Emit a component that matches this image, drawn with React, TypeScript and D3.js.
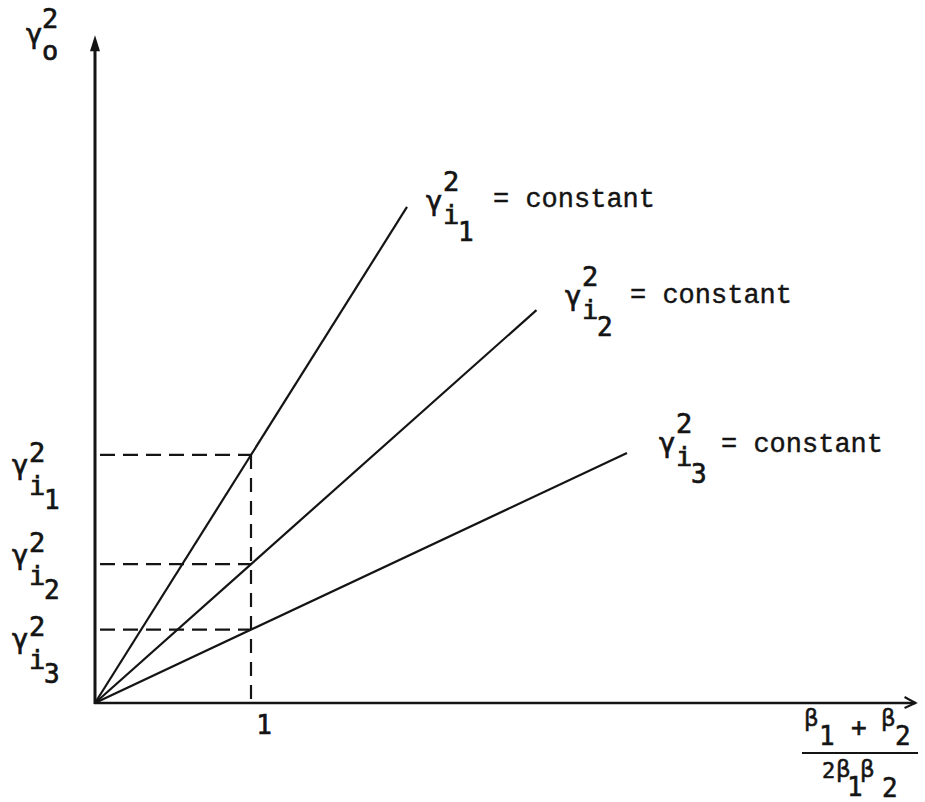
import React from "react";
import * as d3 from "d3";

// ---- data ----
const lineSubscripts = ["1", "2", "3"]; // γ_{i_k}
const lineValuesAtOne = [1.59, 0.89, 0.47]; // γ_{i_k}^2 value at x = 1
const lineEndX = [2.0, 2.83, 3.41]; // where each drawn line stops
const xTickValues = [1];
const xTickLabels = ["1"];
const xAxisMax = 5.26;
const yAxisMax = 4.28;
const labelText = "= constant";

// ---- layout ----
const W = 925;
const H = 802;
const x = d3.scaleLinear().domain([0, 1]).range([95, 251]);
const y = d3.scaleLinear().domain([0, 1]).range([703, 547]);

const MONO = "'DejaVu Sans Mono', monospace";
const SANS = "'DejaVu Sans', sans-serif";
const COURIER = "'Liberation Mono', 'Courier New', monospace";
const INK = "#141414";
const TS = 0.7; // faux-bold stroke for scanned-type look

// line label anchors (γ left, γ bottom) and "= constant" x/baseline
const lineLabelPos = [
  { gx: 427, gb: 215, tx: 493, tb: 207 },
  { gx: 566, gb: 310, tx: 630, tb: 303 },
  { gx: 660, gb: 457, tx: 721, tb: 452 },
];
// tick label γ bottoms relative to the dashed line
const tickLabelOffset = [24, 5, 23];

function Gamma({ gx, gb, sub, supDy = -24, iDy = 9, subDy = 26 }: any) {
  return (
    <g fill={INK} stroke={INK} strokeWidth={TS}>
      <text x={gx - 1} y={gb - 5} fontSize={27} fontFamily={SANS}>γ</text>
      <text x={gx + 16} y={gb + supDy} fontSize={27} fontFamily={MONO}>2</text>
      <text x={gx + 16} y={gb + iDy} fontSize={27} fontFamily={MONO}>i</text>
      <text x={gx + 31} y={gb + subDy} fontSize={26} fontFamily={MONO}>{sub}</text>
    </g>
  );
}

export default function App() {
  const line = d3
    .line<[number, number]>()
    .x((d) => x(d[0]))
    .y((d) => y(d[1]));

  const x0 = x(0);
  const y0 = y(0);
  const xEnd = x(xAxisMax);
  const yTop = y(yAxisMax);

  return (
    <svg
      width={W}
      height={H}
      style={{ position: "absolute", left: 0, top: 0, background: "#fff" }}
    >
      <rect width={W} height={H} fill="#fff" />

      {/* dashed guides */}
      {lineValuesAtOne.map((v, i) => (
        <line
          key={"h" + i}
          x1={x0 + 5}
          x2={x(1)}
          y1={y(v)}
          y2={y(v)}
          stroke={INK}
          strokeWidth={2.2}
          strokeDasharray="15 8"
        />
      ))}
      <line
        x1={x(1)}
        x2={x(1)}
        y1={y(lineValuesAtOne[0])}
        y2={y0}
        stroke={INK}
        strokeWidth={2.2}
        strokeDasharray="14 9"
      />

      {/* rays */}
      {lineValuesAtOne.map((v, i) => (
        <path
          key={"l" + i}
          d={line([
            [0, 0],
            [lineEndX[i], v * lineEndX[i]],
          ]) || ""}
          fill="none"
          stroke={INK}
          strokeWidth={2.2}
        />
      ))}

      {/* axes */}
      <line x1={x0} x2={x0} y1={y0 + 1} y2={yTop + 8} stroke={INK} strokeWidth={3} />
      <path
        d={`M${x0 - 5},${yTop + 16} L${x0},${yTop} L${x0 + 5},${yTop + 16} Z`}
        fill={INK}
      />
      <line x1={x0 - 1} x2={xEnd} y1={y0} y2={y0} stroke={INK} strokeWidth={2.5} />
      <path
        d={`M${xEnd - 11},${y0 - 6} L${xEnd},${y0} L${xEnd - 11},${y0 + 5}`}
        fill="none"
        stroke={INK}
        strokeWidth={2}
      />

      {/* x tick labels */}
      {xTickValues.map((v, i) => (
        <text
          key={"xt" + i}
          x={x(v) + 13}
          y={734}
          fontSize={26}
          fontFamily={MONO}
          textAnchor="middle"
          fill={INK}
          stroke={INK}
          strokeWidth={TS}
        >
          {xTickLabels[i]}
        </text>
      ))}

      {/* y tick labels */}
      {lineValuesAtOne.map((v, i) => (
        <Gamma
          key={"yt" + i}
          gx={13}
          gb={y(v) + tickLabelOffset[i]}
          sub={lineSubscripts[i]}
          supDy={-17}
          iDy={16}
          subDy={30}
        />
      ))}

      {/* line labels */}
      {lineLabelPos.map((p, i) => (
        <g key={"ll" + i}>
          <Gamma gx={p.gx} gb={p.gb} sub={lineSubscripts[i]} />
          <text
            x={p.tx}
            y={p.tb}
            fontSize={27}
            fontFamily={COURIER}
            fill={INK}
            stroke={INK}
            strokeWidth={0.4}
            xmlSpace="preserve"
          >
            {labelText}
          </text>
        </g>
      ))}

      {/* y axis title γ_o^2 */}
      <g fill={INK} stroke={INK} strokeWidth={TS}>
        <text x={26} y={43} fontSize={27} fontFamily={SANS}>γ</text>
        <text x={42} y={28} fontSize={27} fontFamily={MONO}>2</text>
        <text x={42} y={60} fontSize={27} fontFamily={MONO}>o</text>
      </g>

      {/* x axis title (β1 + β2) / (2β1β2) */}
      <g fill={INK} stroke={INK} strokeWidth={TS * 0.8}>
        <text x={804} y={726} fontSize={23} fontFamily={SANS}>β</text>
        <text x={819} y={745} fontSize={26} fontFamily={MONO}>1</text>
        <text x={851} y={736} fontSize={26} fontFamily={MONO}>+</text>
        <text x={881} y={726} fontSize={23} fontFamily={SANS}>β</text>
        <text x={895} y={745} fontSize={26} fontFamily={MONO}>2</text>
        <line x1={802} x2={918} y1={753} y2={753} stroke={INK} strokeWidth={2} />
        <text x={822} y={778} fontSize={22} fontFamily={MONO}>2</text>
        <text x={836} y={777} fontSize={23} fontFamily={SANS}>β</text>
        <text x={847} y={796} fontSize={26} fontFamily={MONO}>1</text>
        <text x={860} y={777} fontSize={23} fontFamily={SANS}>β</text>
        <text x={882} y={797} fontSize={26} fontFamily={MONO}>2</text>
      </g>
    </svg>
  );
}
